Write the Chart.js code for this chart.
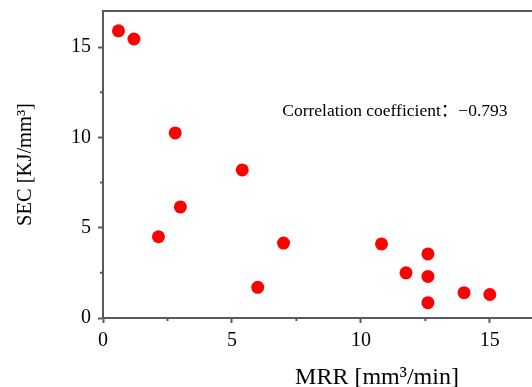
<!DOCTYPE html>
<html>
<head>
<meta charset="utf-8">
<script src="https://cdn.jsdelivr.net/npm/chart.js@4/dist/chart.umd.min.js"></script>
<style>
  html, body { margin: 0; padding: 0; background: #fff; overflow: hidden; }
  #wrap { width: 660px; height: 387px; position: relative; }
</style>
</head>
<body>
<div id="wrap"><canvas id="scatterChart"></canvas></div>
<script>
// MRR [mm3/min] vs SEC [KJ/mm3]
var mrr = [0.6, 1.2, 2.8, 3.0, 2.15, 5.4, 7.0, 6.0, 10.8, 12.6, 11.75, 12.6, 12.6, 14.0, 15.0];
var sec = [15.9, 15.45, 10.25, 6.15, 4.5, 8.2, 4.15, 1.7, 4.1, 3.55, 2.5, 2.3, 0.85, 1.4, 1.3];
var xTicks = [0, 5, 10, 15, 20];
var yTicks = [0, 5, 10, 15];
var noteText = 'Correlation coefficient\uFF1A\u22120.793';

var serif = "'Times New Roman', 'Liberation Serif', serif";
var axisColor = '#5a5a5a';

var points = mrr.map(function(v, i) { return { x: v, y: sec[i] }; });

// top frame line, minor ticks and the correlation note
var extras = {
    id: 'extras',
    afterDraw: function(chart) {
        var ctx = chart.ctx;
        var area = chart.chartArea;
        var xs = chart.scales.x;
        var ys = chart.scales.y;
        ctx.save();
        ctx.strokeStyle = axisColor;
        ctx.lineWidth = 2;
        ctx.beginPath();
        ctx.moveTo(area.left - 1, area.top);
        ctx.lineTo(area.right, area.top);
        ctx.stroke();

        ctx.beginPath();
        for (var i = 0; i < xTicks.length - 1; i++) {
            var px = xs.getPixelForValue(xTicks[i] + 2.5);
            ctx.moveTo(px, area.bottom);
            ctx.lineTo(px, area.bottom + 3);
        }
        for (var j = 0; j < yTicks.length; j++) {
            var v = yTicks[j] + 2.5;
            if (v > ys.max) continue;
            var py = ys.getPixelForValue(v);
            ctx.moveTo(area.left, py);
            ctx.lineTo(area.left - 3, py);
        }
        ctx.stroke();

        ctx.fillStyle = '#000';
        ctx.font = "17.5px 'Liberation Serif', 'Noto Sans CJK SC', serif";
        ctx.textAlign = 'left';
        ctx.textBaseline = 'middle';
        ctx.fillText(noteText, xs.getPixelForValue(6.95), ys.getPixelForValue(11.45));
        ctx.restore();
    }
};

new Chart(document.getElementById('scatterChart'), {
    type: 'scatter',
    data: {
        datasets: [{
            label: 'SEC',
            data: points,
            backgroundColor: '#ff0000',
            borderWidth: 0,
            pointRadius: 6.5,
            pointHoverRadius: 6.5
        }]
    },
    options: {
        responsive: true,
        maintainAspectRatio: false,
        animation: false,
        layout: { padding: { top: 11, right: 9, left: 0, bottom: 0 } },
        plugins: {
            legend: { display: false },
            tooltip: { enabled: false }
        },
        scales: {
            x: {
                type: 'linear',
                min: 0,
                max: 21.25,
                afterFit: function(scale) {
                    scale.height = 69;
                    scale.paddingLeft = 0;
                    scale.paddingRight = 0;
                },
                afterBuildTicks: function(scale) {
                    scale.ticks = xTicks.map(function(v) { return { value: v }; });
                },
                ticks: {
                    color: '#000',
                    font: { family: serif, size: 20 },
                    padding: 6,
                    maxRotation: 0
                },
                grid: {
                    drawOnChartArea: false,
                    drawTicks: true,
                    tickLength: 5,
                    tickWidth: 2,
                    tickColor: axisColor
                },
                border: { display: true, color: axisColor, width: 2 },
                title: {
                    display: true,
                    text: 'MRR [mm\u00B3/min]',
                    color: '#000',
                    font: { family: serif, size: 24 },
                    padding: { top: 0, bottom: -5 }
                }
            },
            y: {
                type: 'linear',
                min: 0,
                max: 17,
                afterFit: function(scale) {
                    scale.width = 103;
                    scale.paddingTop = 0;
                    scale.paddingBottom = 0;
                },
                afterBuildTicks: function(scale) {
                    scale.ticks = yTicks.map(function(v) { return { value: v }; });
                },
                ticks: {
                    color: '#000',
                    font: { family: serif, size: 20 },
                    padding: 7
                },
                grid: {
                    drawOnChartArea: false,
                    drawTicks: true,
                    tickLength: 5,
                    tickWidth: 2,
                    tickColor: axisColor
                },
                border: { display: true, color: axisColor, width: 2 },
                title: {
                    display: true,
                    text: 'SEC [KJ/mm\u00B3]',
                    color: '#000',
                    font: { family: serif, size: 20.5 },
                    padding: { top: 13, bottom: 0 }
                }
            }
        }
    },
    plugins: [extras]
});
</script>
</body>
</html>
